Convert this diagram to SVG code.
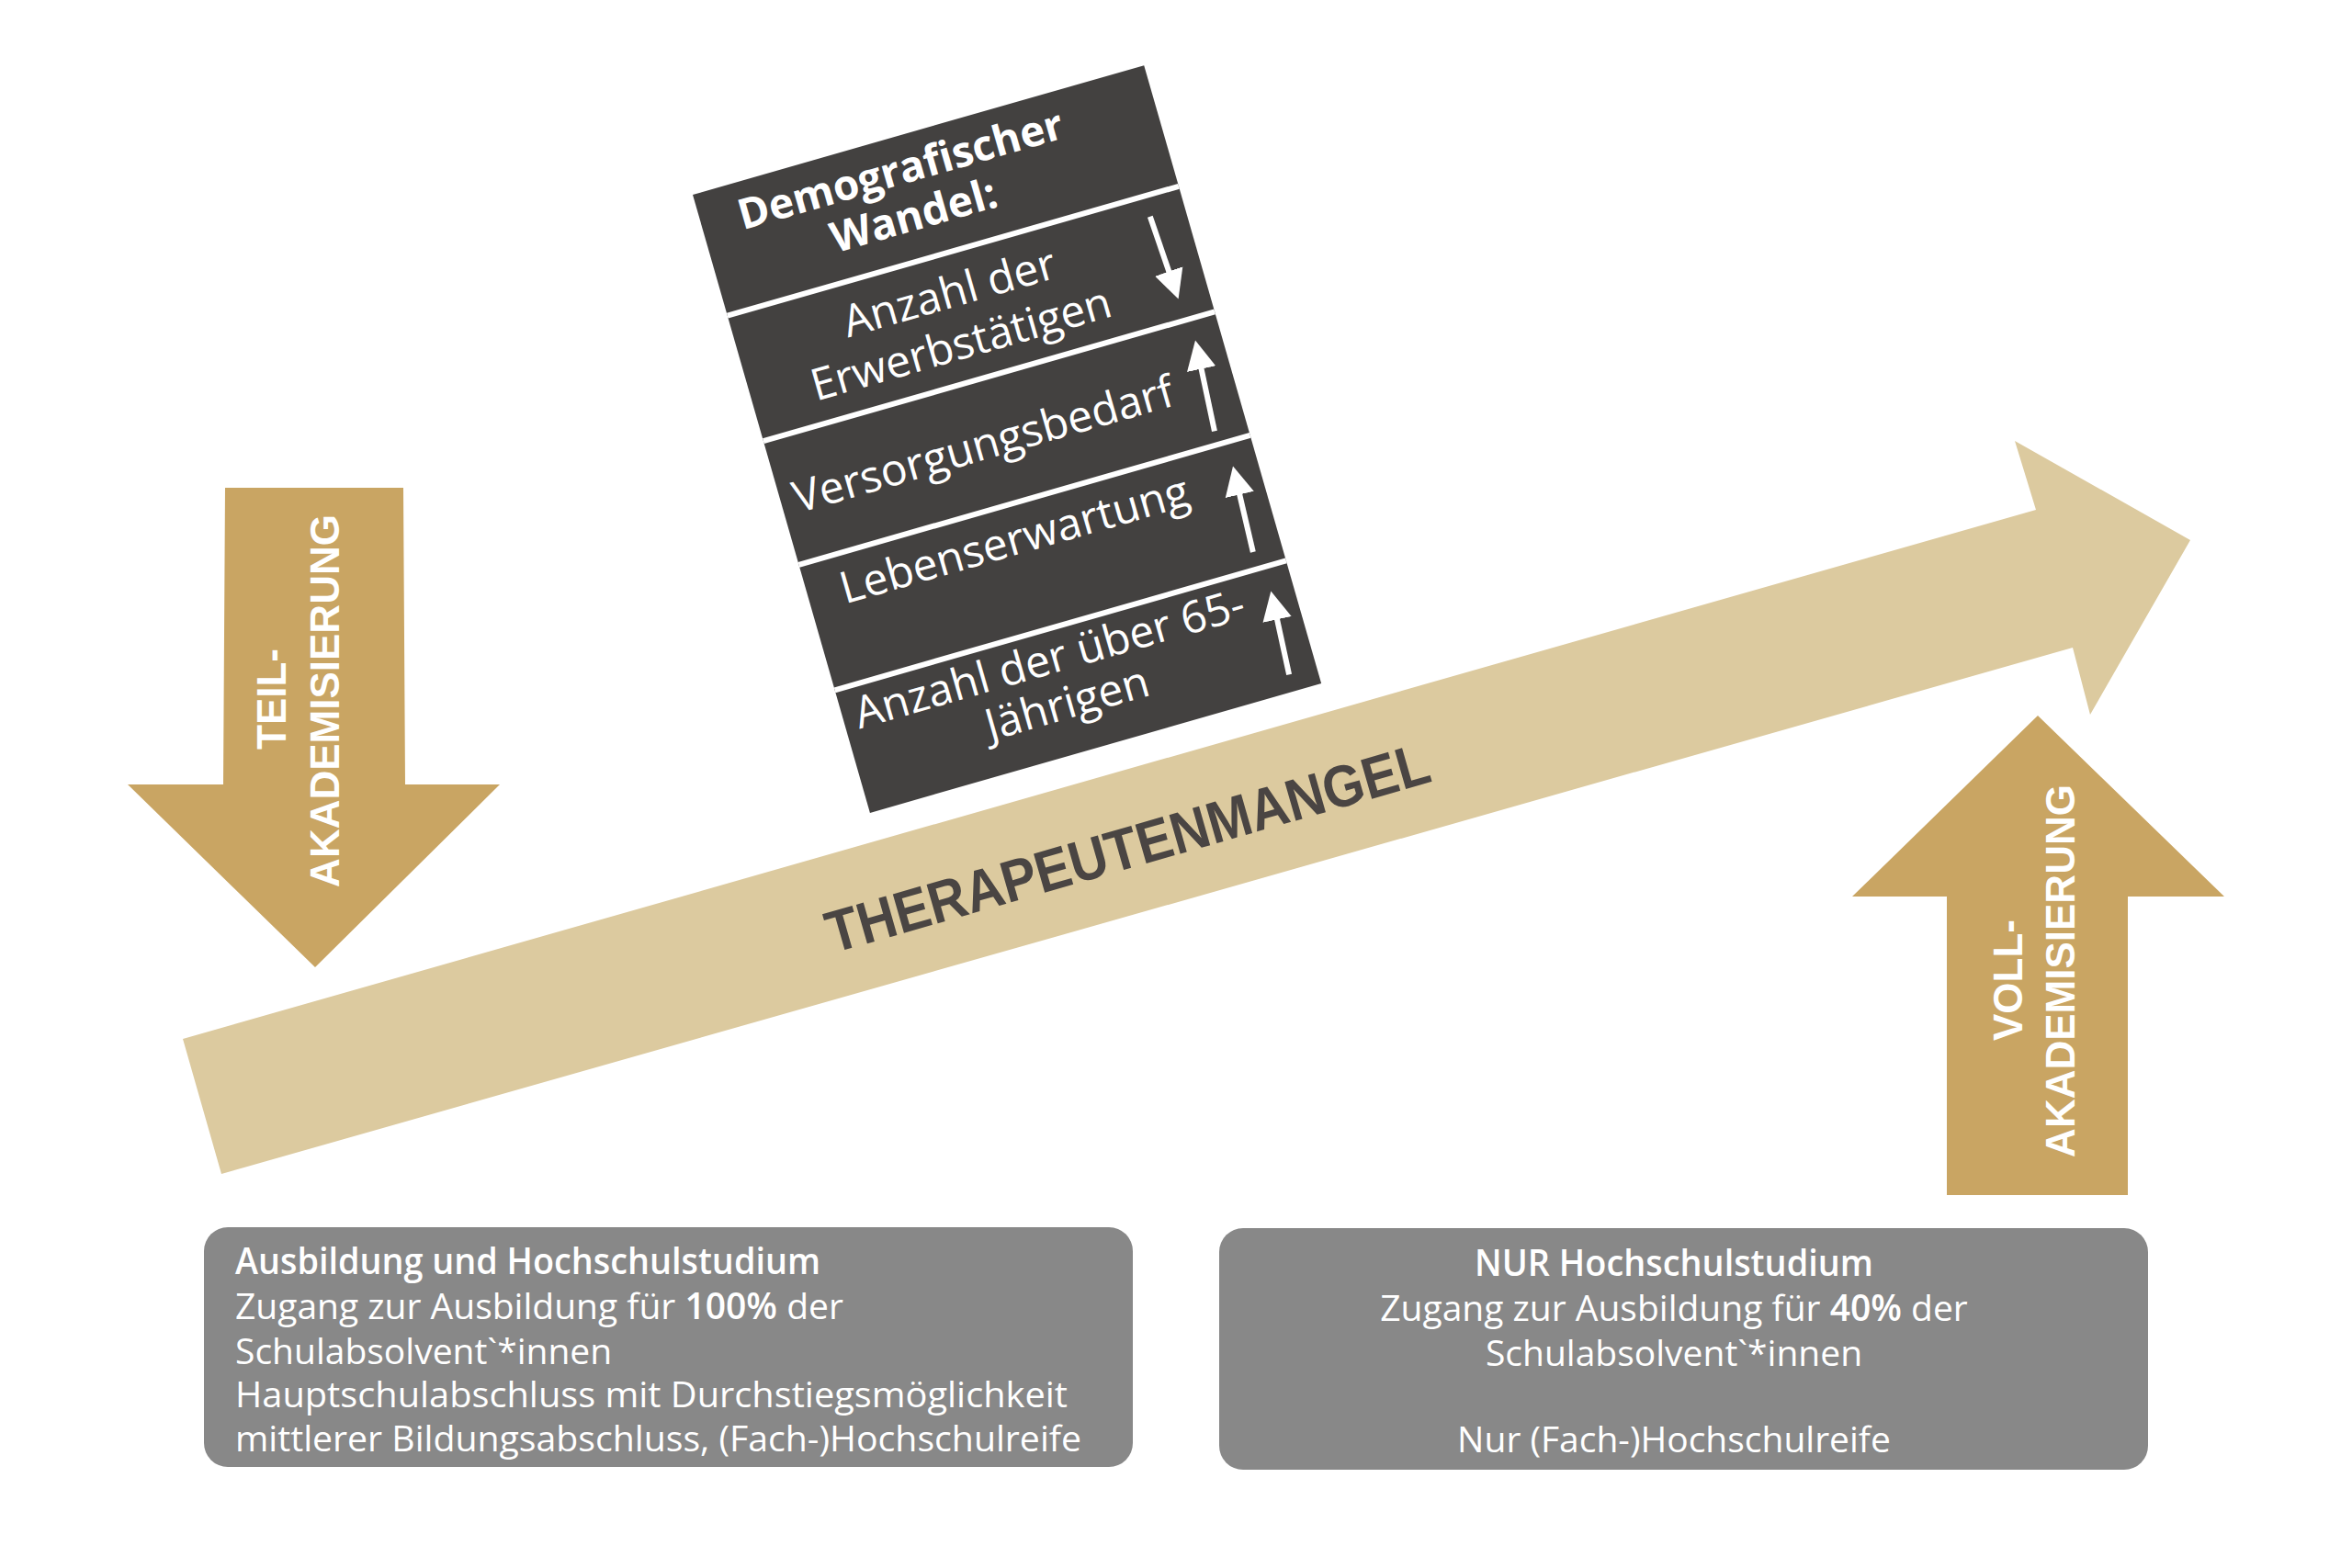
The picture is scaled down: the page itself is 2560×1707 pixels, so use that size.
<svg xmlns="http://www.w3.org/2000/svg" width="2560" height="1707" viewBox="0 0 2560 1707">
<defs>
<style>
.gold{fill:#C9A563}
.tan{fill:#DCCA9F}
.dark{fill:#434140}
.gray{fill:#888888}
.wt{fill:#FFFFFF;font-family:"Open Sans","Liberation Sans",sans-serif}
.ak{fill:#FFFFFF;font-family:"Liberation Sans","Open Sans",sans-serif;font-weight:bold;font-size:44px;text-anchor:middle}
.box{font-size:48px;text-anchor:middle}
.hd{font-size:46px;font-weight:bold}
.low{font-size:39px}
.sb{font-weight:600}
.sep{stroke:#FFFFFF;stroke-width:6}
.sa{stroke:#FFFFFF;stroke-width:6;fill:none}
</style>
<marker id="ah" viewBox="0 0 10 10" refX="5" refY="5" markerWidth="5.3" markerHeight="5.5" markerUnits="strokeWidth" orient="auto">
<path d="M0,0 L10,5 L0,10 Z" fill="#FFFFFF"/>
</marker>
</defs>
<rect width="2560" height="1707" fill="#FFFFFF"/>

<g id="therapeutenmangel">
<polygon class="tan" points="199,1131 2216,555 2193,480 2384,588 2275,778 2256,705 241,1278"/>
<text transform="translate(1227,922) rotate(-16)" y="23" fill="#4A4543" font-family="Liberation Sans, Open Sans, sans-serif" font-weight="bold" font-size="64" text-anchor="middle" textLength="680" lengthAdjust="spacingAndGlyphs">THERAPEUTENMANGEL</text>
</g>

<g id="teil-akademisierung">
<polygon class="gold" points="245,531 439,531 441,854 544,854 343,1053 139,854 243,854"/>
<text class="ak" transform="translate(311,761) rotate(-90)">TEIL-</text>
<text class="ak" transform="translate(369,763) rotate(-90)">AKADEMISIERUNG</text>
</g>

<g id="voll-akademisierung">
<polygon class="gold" points="2218,779 2421,976 2316,976 2316,1301 2119,1301 2119,976 2016,976"/>
<text class="ak" transform="translate(2201,1067) rotate(-90)">VOLL-</text>
<text class="ak" transform="translate(2258,1057) rotate(-90)">AKADEMISIERUNG</text>
</g>

<g id="demografischer-wandel" transform="translate(754,212) rotate(-16)">
<rect class="dark" x="0" y="0" width="511" height="700"/>
<line class="sep" x1="0" y1="137" x2="511" y2="137"/>
<line class="sep" x1="0" y1="279" x2="511" y2="279"/>
<line class="sep" x1="0" y1="419" x2="511" y2="419"/>
<line class="sep" x1="0" y1="561" x2="511" y2="561"/>
<text class="wt box hd" x="225" y="52">Demografischer</text>
<text class="wt box hd" x="225" y="104">Wandel:</text>
<text class="wt box" x="239" y="196">Anzahl der</text>
<text class="wt box" x="236" y="253">Erwerbstätigen</text>
<text class="wt box" x="229" y="365">Versorgungsbedarf</text>
<text class="wt box" x="233" y="474">Lebenserwartung</text>
<text class="wt box" x="234" y="609">Anzahl der über 65-</text>
<text class="wt box" x="239" y="661">Jährigen</text>
<line class="sa" x1="472" y1="160" x2="476" y2="239" marker-end="url(#ah)"/>
<line class="sa" x1="475" y1="404" x2="481" y2="319" marker-end="url(#ah)"/>
<line class="sa" x1="479" y1="542" x2="483" y2="462" marker-end="url(#ah)"/>
<line class="sa" x1="480" y1="681" x2="485" y2="604" marker-end="url(#ah)"/>
</g>

<g id="box-ausbildung">
<rect class="gray" x="222" y="1336" width="1011" height="261" rx="26"/>
<text class="wt low sb" x="256" y="1387" textLength="637" lengthAdjust="spacingAndGlyphs">Ausbildung und Hochschulstudium</text>
<text class="wt low" x="256" y="1436">Zugang zur Ausbildung für <tspan class="sb">100%</tspan> der</text>
<text class="wt low" x="256" y="1485">Schulabsolvent`*innen</text>
<text class="wt low" x="256" y="1532" textLength="906" lengthAdjust="spacingAndGlyphs">Hauptschulabschluss mit Durchstiegsmöglichkeit</text>
<text class="wt low" x="256" y="1580" textLength="921" lengthAdjust="spacingAndGlyphs">mittlerer Bildungsabschluss, (Fach-)Hochschulreife</text>
</g>

<g id="box-hochschulstudium">
<rect class="gray" x="1327" y="1337" width="1011" height="263" rx="26"/>
<text class="wt low sb" x="1822" y="1389" text-anchor="middle" textLength="434" lengthAdjust="spacingAndGlyphs">NUR Hochschulstudium</text>
<text class="wt low" x="1822" y="1438" text-anchor="middle">Zugang zur Ausbildung für <tspan class="sb">40%</tspan> der</text>
<text class="wt low" x="1822" y="1487" text-anchor="middle">Schulabsolvent`*innen</text>
<text class="wt low" x="1822" y="1581" text-anchor="middle">Nur (Fach-)Hochschulreife</text>
</g>

<g id="connectors"></g>
</svg>
